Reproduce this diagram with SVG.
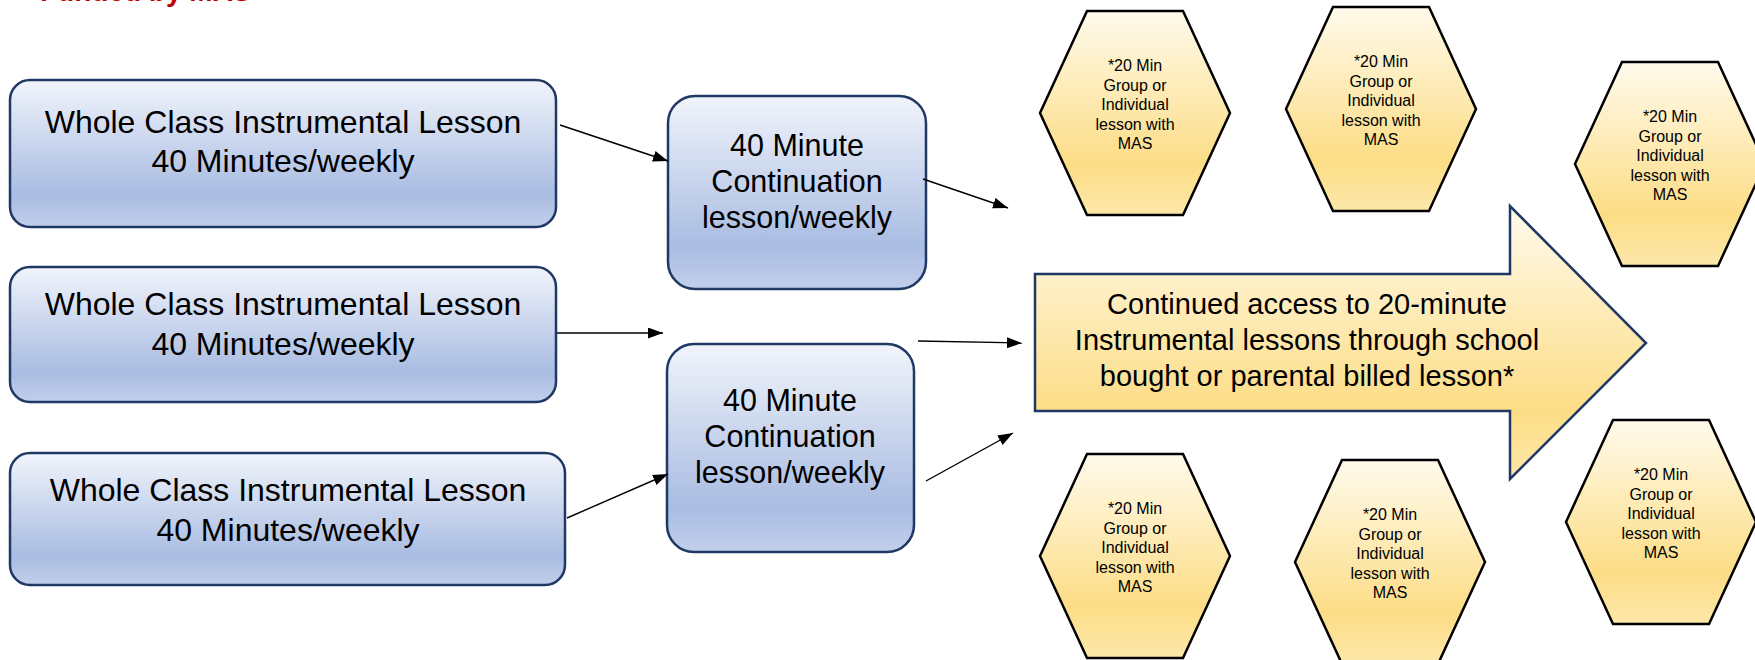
<svg xmlns="http://www.w3.org/2000/svg" width="1755" height="660" viewBox="0 0 1755 660">
<defs>
<linearGradient id="blueGrad" x1="0" y1="0" x2="0" y2="1">
<stop offset="0" stop-color="#f1f4fb"/>
<stop offset="0.78" stop-color="#a9bce2"/>
<stop offset="1" stop-color="#c2cfeb"/>
</linearGradient>
<linearGradient id="yellowGrad" x1="0" y1="0" x2="0" y2="1">
<stop offset="0" stop-color="#fffaec"/>
<stop offset="0.75" stop-color="#fcdd86"/>
<stop offset="1" stop-color="#fde8aa"/>
</linearGradient>
<marker id="ah" viewBox="0 0 15 11" refX="15" refY="5.5" markerWidth="15" markerHeight="11" markerUnits="userSpaceOnUse" orient="auto">
<path d="M0,0 L15,5.5 L0,11 Z" fill="#000"/>
</marker>
<polygon id="hexShape" points="-95,102 -48,0 48,0 95,102 48,204 -48,204"/>
</defs>
<style>
.box{fill:url(#blueGrad);stroke:#1f3864;stroke-width:2.5}
.hex{fill:url(#yellowGrad);stroke:#000;stroke-width:2.5}
.big{fill:url(#yellowGrad);stroke:#1f3864;stroke-width:2.5}
.t31{font-family:"Liberation Sans",Arial,sans-serif;font-size:32px;fill:#000;text-anchor:middle}
.t30{font-family:"Liberation Sans",Arial,sans-serif;font-size:30.5px;fill:#000;text-anchor:middle}
.t29{font-family:"Liberation Sans",Arial,sans-serif;font-size:29px;fill:#000;text-anchor:middle}
.t16{font-family:"Liberation Sans",Arial,sans-serif;font-size:16px;fill:#000;text-anchor:middle}
.conn line{stroke:#000;stroke-width:1.4;marker-end:url(#ah)}
.red{font-family:"Liberation Sans",Arial,sans-serif;font-size:28px;font-weight:bold;fill:#c00000}
</style>
<rect width="1755" height="660" fill="#fff"/>
<text class="red" x="40" y="1.2">Funded by MAS</text>

<g id="whole1">
<rect class="box" x="10" y="80" width="546" height="147" rx="20"/>
<text class="t31" x="283" y="133">Whole Class Instrumental Lesson</text>
<text class="t31" x="283" y="172">40 Minutes/weekly</text>
</g>
<g id="whole2">
<rect class="box" x="10" y="267" width="546" height="135" rx="20"/>
<text class="t31" x="283" y="315">Whole Class Instrumental Lesson</text>
<text class="t31" x="283" y="355">40 Minutes/weekly</text>
</g>
<g id="whole3">
<rect class="box" x="10" y="453" width="555" height="132" rx="20"/>
<text class="t31" x="288" y="501">Whole Class Instrumental Lesson</text>
<text class="t31" x="288" y="541">40 Minutes/weekly</text>
</g>
<g id="cont1">
<rect class="box" x="668" y="96" width="258" height="193" rx="27"/>
<text class="t30" x="797" y="156">40 Minute</text>
<text class="t30" x="797" y="192">Continuation</text>
<text class="t30" x="797" y="228">lesson/weekly</text>
</g>
<g id="cont2">
<rect class="box" x="667" y="344" width="247" height="208" rx="27"/>
<text class="t30" x="790" y="411">40 Minute</text>
<text class="t30" x="790" y="447">Continuation</text>
<text class="t30" x="790" y="483">lesson/weekly</text>
</g>
<g id="access">
<path class="big" d="M1035,274 L1510,274 L1510,206 L1646,343 L1510,479 L1510,411 L1035,411 Z"/>
<text class="t29" x="1307" y="314">Continued access to 20-minute</text>
<text class="t29" x="1307" y="350">Instrumental lessons through school</text>
<text class="t29" x="1307" y="386">bought or parental billed lesson*</text>
</g>

<g id="hex1" transform="translate(1135,11)">
<use href="#hexShape" class="hex"/>
<text class="t16" x="0" y="60">*20 Min</text><text class="t16" x="0" y="79.5">Group or</text><text class="t16" x="0" y="99">Individual</text><text class="t16" x="0" y="118.5">lesson with</text><text class="t16" x="0" y="138">MAS</text>
</g>
<g id="hex2" transform="translate(1381,7)">
<use href="#hexShape" class="hex"/>
<text class="t16" x="0" y="60">*20 Min</text><text class="t16" x="0" y="79.5">Group or</text><text class="t16" x="0" y="99">Individual</text><text class="t16" x="0" y="118.5">lesson with</text><text class="t16" x="0" y="138">MAS</text>
</g>
<g id="hex3" transform="translate(1670,62)">
<use href="#hexShape" class="hex"/>
<text class="t16" x="0" y="60">*20 Min</text><text class="t16" x="0" y="79.5">Group or</text><text class="t16" x="0" y="99">Individual</text><text class="t16" x="0" y="118.5">lesson with</text><text class="t16" x="0" y="138">MAS</text>
</g>
<g id="hex4" transform="translate(1135,454)">
<use href="#hexShape" class="hex"/>
<text class="t16" x="0" y="60">*20 Min</text><text class="t16" x="0" y="79.5">Group or</text><text class="t16" x="0" y="99">Individual</text><text class="t16" x="0" y="118.5">lesson with</text><text class="t16" x="0" y="138">MAS</text>
</g>
<g id="hex5" transform="translate(1390,460)">
<use href="#hexShape" class="hex"/>
<text class="t16" x="0" y="60">*20 Min</text><text class="t16" x="0" y="79.5">Group or</text><text class="t16" x="0" y="99">Individual</text><text class="t16" x="0" y="118.5">lesson with</text><text class="t16" x="0" y="138">MAS</text>
</g>
<g id="hex6" transform="translate(1661,420)">
<use href="#hexShape" class="hex"/>
<text class="t16" x="0" y="60">*20 Min</text><text class="t16" x="0" y="79.5">Group or</text><text class="t16" x="0" y="99">Individual</text><text class="t16" x="0" y="118.5">lesson with</text><text class="t16" x="0" y="138">MAS</text>
</g>

<g id="connectors" class="conn">
<line x1="560" y1="125" x2="668" y2="161"/>
<line x1="923" y1="179" x2="1008" y2="208"/>
<line x1="557" y1="333" x2="663" y2="333"/>
<line x1="918" y1="341" x2="1022" y2="343"/>
<line x1="567" y1="518" x2="668" y2="474"/>
<line x1="926" y1="481" x2="1013" y2="433"/>
</g>
</svg>
